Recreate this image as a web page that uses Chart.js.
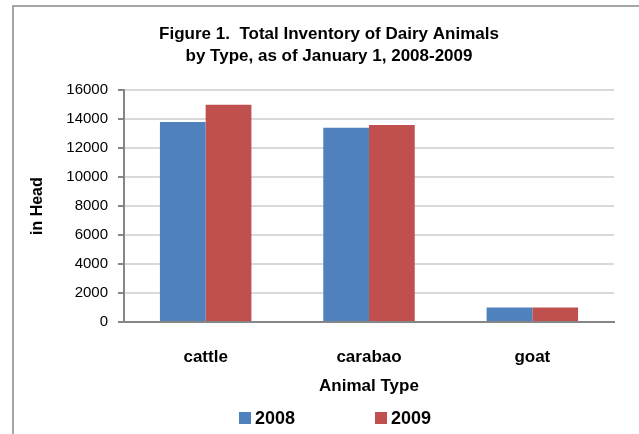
<!DOCTYPE html>
<html>
<head>
<meta charset="utf-8">
<script src="https://cdn.jsdelivr.net/npm/chart.js@4"></script>
<style>
  html, body { margin: 0; padding: 0; background: #fff; }
  #wrap { width: 639px; height: 434px; }
</style>
</head>
<body>
<div id="wrap"><canvas id="dairyChart" width="639" height="434"></canvas></div>
<script>
const animalTypes = ['cattle', 'carabao', 'goat'];
const head2008 = [13800, 13400, 1000];
const head2009 = [15000, 13600, 1000];
const yearLabels = ['2008', '2009'];
const yTicks = [0, 2000, 4000, 6000, 8000, 10000, 12000, 14000, 16000];

const FONT = '"Liberation Sans", Arial, sans-serif';

// outer frame
const framePlugin = {
  id: 'frame',
  beforeDraw(chart) {
    const c = chart.ctx;
    c.save();
    c.strokeStyle = '#a6a6a6';
    c.lineWidth = 2;
    c.strokeRect(13, 6, 700, 500);
    c.restore();
  }
};

// legend drawn by hand so the gap between items matches
const legendPlugin = {
  id: 'wideLegend',
  afterDraw(chart) {
    const c = chart.ctx;
    const starts = [239, 375];
    const y = 418;
    c.save();
    c.font = 'bold 18px ' + FONT;
    c.textBaseline = 'middle';
    chart.data.datasets.forEach((ds, i) => {
      c.fillStyle = ds.backgroundColor;
      c.fillRect(starts[i], y - 6, 12, 12);
      c.fillStyle = '#000';
      c.fillText(ds.label, starts[i] + 16, y + 1);
    });
    c.restore();
  }
};

new Chart(document.getElementById('dairyChart'), {
  type: 'bar',
  data: {
    labels: animalTypes,
    datasets: [
      { label: yearLabels[0], data: head2008, backgroundColor: '#4F81BD' },
      { label: yearLabels[1], data: head2009, backgroundColor: '#C0504D' }
    ]
  },
  options: {
    responsive: false,
    animation: false,
    layout: { padding: { left: 44, right: 25, top: 0, bottom: 37 } },
    datasets: { bar: { categoryPercentage: 0.56, barPercentage: 1 } },
    plugins: {
      legend: { display: false },
      tooltip: { enabled: false },
      title: {
        display: true,
        text: ['Figure 1.  Total Inventory of Dairy Animals', 'by Type, as of January 1, 2008-2009'],
        color: '#000',
        font: { family: FONT, size: 17, weight: 'bold', lineHeight: 1.3 },
        padding: { top: 23, bottom: 23 }
      }
    },
    scales: {
      x: {
        grid: { display: false, drawTicks: false },
        border: { color: '#868686', width: 2 },
        ticks: { color: '#000', font: { family: FONT, size: 17, weight: 'bold' }, padding: 25 },
        title: {
          display: true, text: 'Animal Type', color: '#000',
          font: { family: FONT, size: 17, weight: 'bold' },
          padding: { top: 10, bottom: 0 }
        },
        afterFit(scale) { scale.height = 75; }
      },
      y: {
        min: 0, max: 16000,
        afterBuildTicks(scale) { scale.ticks = yTicks.map(v => ({ value: v })); },
        grid: { color: '#d9d9d9', lineWidth: 2, tickLength: 6, tickColor: '#868686' },
        border: { color: '#868686', width: 2 },
        ticks: {
          color: '#000', font: { family: FONT, size: 15 }, padding: 10,
          callback: v => String(v)
        },
        title: {
          display: true, text: 'in Head', color: '#000',
          font: { family: FONT, size: 16, weight: 'bold' },
          padding: { top: -16, bottom: 0 }
        },
        afterFit(scale) { scale.width = 80; }
      }
    }
  },
  plugins: [framePlugin, legendPlugin]
});
</script>
</body>
</html>
